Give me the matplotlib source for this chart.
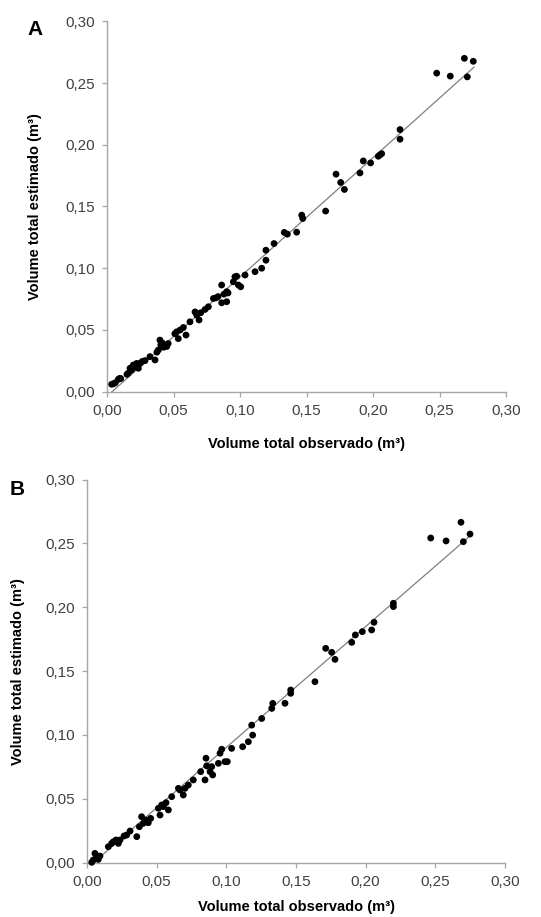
import numpy as np
import matplotlib
matplotlib.use("Agg")
import matplotlib.pyplot as plt

plt.rcParams['font.family'] = ['Liberation Sans', 'DejaVu Sans']

# ---------------- data ----------------
# Panel A: observed vs estimated total volume (m3)
obs_A = [0.0035, 0.0050, 0.0062, 0.0085, 0.0095, 0.0103, 0.0150, 0.0160, 0.0173, 0.0185,
         0.0198, 0.0210, 0.0223, 0.0236, 0.0250, 0.0265, 0.0286, 0.0323, 0.0361, 0.0375,
         0.0386, 0.0398, 0.0405, 0.0415, 0.0425, 0.0449, 0.0460, 0.0510, 0.0524, 0.0536,
         0.0550, 0.0574, 0.0594, 0.0624, 0.0662, 0.0675, 0.0692, 0.0705, 0.0737, 0.0762,
         0.0800, 0.0820, 0.0835, 0.0862, 0.0862, 0.0880, 0.0900, 0.0900, 0.0910, 0.0950,
         0.0962, 0.0975, 0.0988, 0.1005, 0.1038, 0.1113, 0.1163, 0.1195, 0.1195, 0.1256,
         0.1333, 0.1356, 0.1426, 0.1464, 0.1472, 0.1644, 0.1722, 0.1757, 0.1785, 0.1902,
         0.1927, 0.1982, 0.2040, 0.2052, 0.2065, 0.2203, 0.2203, 0.2479, 0.2581, 0.2687,
         0.2754, 0.2709]
est_A = [0.0060, 0.0065, 0.0072, 0.0100, 0.0108, 0.0106, 0.0140, 0.0150, 0.0190, 0.0175,
         0.0216, 0.0200, 0.0229, 0.0190, 0.0230, 0.0245, 0.0252, 0.0284, 0.0257, 0.0320,
         0.0338, 0.0418, 0.0380, 0.0395, 0.0360, 0.0366, 0.0390, 0.0470, 0.0485, 0.0430,
         0.0500, 0.0520, 0.0459, 0.0566, 0.0646, 0.0620, 0.0581, 0.0640, 0.0666, 0.0688,
         0.0755, 0.0760, 0.0770, 0.0864, 0.0720, 0.0790, 0.0729, 0.0810, 0.0800, 0.0890,
         0.0931, 0.0935, 0.0864, 0.0850, 0.0945, 0.0972, 0.1000, 0.1065, 0.1146, 0.1200,
         0.1290, 0.1276, 0.1292, 0.1430, 0.1403, 0.1463, 0.1762, 0.1695, 0.1638, 0.1772,
         0.1869, 0.1853, 0.1907, 0.1918, 0.1928, 0.2123, 0.2045, 0.2580, 0.2556, 0.2700,
         0.2676, 0.2550]

# Panel B
obs_B = [0.0034, 0.0045, 0.0057, 0.0069, 0.0093, 0.0081, 0.0153, 0.0177, 0.0189, 0.0208,
         0.0225, 0.0237, 0.0266, 0.0285, 0.0309, 0.0357, 0.0376, 0.0392, 0.0404, 0.0423,
         0.0440, 0.0457, 0.0512, 0.0524, 0.0536, 0.0548, 0.0567, 0.0584, 0.0608, 0.0656,
         0.0667, 0.0691, 0.0703, 0.0727, 0.0763, 0.0816, 0.0847, 0.0854, 0.0859, 0.0883,
         0.0902, 0.0895, 0.0943, 0.0955, 0.0967, 0.0990, 0.1007, 0.1038, 0.1117, 0.1158,
         0.1189, 0.1182, 0.1254, 0.1333, 0.1326, 0.1421, 0.1462, 0.1462, 0.1636, 0.1713,
         0.1756, 0.1780, 0.1900, 0.1926, 0.1976, 0.2043, 0.2060, 0.2199, 0.2199, 0.2467,
         0.2577, 0.2684, 0.2749, 0.2701]
est_B = [0.0003, 0.0021, 0.0073, 0.0047, 0.0052, 0.0026, 0.0125, 0.0151, 0.0164, 0.0178,
         0.0151, 0.0178, 0.0209, 0.0217, 0.0248, 0.0204, 0.0282, 0.0360, 0.0308, 0.0334,
         0.0313, 0.0347, 0.0426, 0.0373, 0.0452, 0.0439, 0.0470, 0.0413, 0.0517, 0.0582,
         0.0569, 0.0530, 0.0582, 0.0608, 0.0648, 0.0713, 0.0648, 0.0818, 0.0758, 0.0713,
         0.0687, 0.0752, 0.0778, 0.0857, 0.0888, 0.0791, 0.0791, 0.0895, 0.0908, 0.0947,
         0.0999, 0.1077, 0.1129, 0.1247, 0.1208, 0.1248, 0.1352, 0.1326, 0.1417, 0.1678,
         0.1647, 0.1592, 0.1725, 0.1783, 0.1809, 0.1822, 0.1882, 0.2031, 0.2005, 0.2542,
         0.2519, 0.2665, 0.2573, 0.2513]

# trend lines (slope, intercept, x-range)
fit_A = (0.966, -0.0037)
fit_B = (0.946, -0.0043)
fit_range_A = (0.0035, 0.2760)
fit_range_B = (0.0034, 0.2749)

tick_vals = [0.00, 0.05, 0.10, 0.15, 0.20, 0.25, 0.30]
tick_labels = ['0,00', '0,05', '0,10', '0,15', '0,20', '0,25', '0,30']

xlabel = 'Volume total observado (m³)'
ylabel = 'Volume total estimado (m³)'

# ---------------- figure ----------------
W, H = 541, 917
fig = plt.figure(figsize=(W / 100, H / 100), dpi=100)
fig.patch.set_facecolor('white')


def px_axes(left, right, top, bottom):
    return [left / W, 1 - bottom / H, (right - left) / W, (bottom - top) / H]


axA = fig.add_axes(px_axes(107, 506, 21.3, 391.7))
axB = fig.add_axes(px_axes(87, 505, 479.5, 862.7))

spine_col = '#a6a6a6'
tick_text_col = '#404040'


def style(ax, obs, est, fit, rng, ylab_x, xlab_y, axw, axh):
    xs = np.array(rng)
    ax.plot(xs, fit[0] * xs + fit[1], color='#7f7f7f', lw=0.9, zorder=2)
    ax.scatter(obs, est, s=24, color='black', edgecolors='none', zorder=3, clip_on=False)
    ax.set_xlim(0, 0.30)
    ax.set_ylim(0, 0.30)
    ax.set_xticks(tick_vals)
    ax.set_xticklabels(tick_labels)
    ax.set_yticks(tick_vals)
    ax.set_yticklabels(tick_labels)
    for s in ['top', 'right']:
        ax.spines[s].set_visible(False)
    for s in ['left', 'bottom']:
        ax.spines[s].set_color(spine_col)
        ax.spines[s].set_linewidth(1.0)
    ax.tick_params(axis='both', direction='out', length=3.5, width=0.9,
                   color=spine_col, labelcolor=tick_text_col, labelsize=11)
    ax.tick_params(axis='y', pad=5)
    ax.tick_params(axis='x', pad=5)
    ax.set_xlabel(xlabel, fontsize=10.5, fontweight='bold', color='black')
    ax.set_ylabel(ylabel, fontsize=10.5, fontweight='bold', color='black')
    ax.xaxis.label.set_va('center')
    ax.yaxis.label.set_va('center')
    ax.xaxis.set_label_coords(0.5, xlab_y)
    ax.yaxis.set_label_coords(ylab_x, 0.5)


style(axA, obs_A, est_A, fit_A, fit_range_A, (35 - 107) / 399, (391.7 - 444) / 370.4, 399, 370.4)
style(axB, obs_B, est_B, fit_B, fit_range_B, (18 - 87) / 418, (862.7 - 907) / 383.2, 418, 383.2)

fig.text(35.5 / W, 1 - 29.5 / H, 'A', fontsize=15, fontweight='bold', ha='center', va='center')
fig.text(17.5 / W, 1 - 489.5 / H, 'B', fontsize=15, fontweight='bold', ha='center', va='center')

fig.savefig('out.png', dpi=100, facecolor='white')
